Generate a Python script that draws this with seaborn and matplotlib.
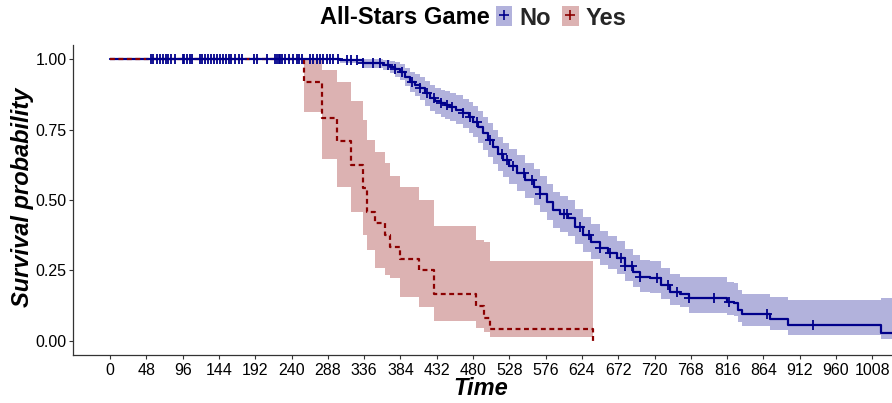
import numpy as np
import pandas as pd
import matplotlib
matplotlib.use("Agg")
import matplotlib.pyplot as plt
from matplotlib.patches import Patch
from matplotlib.lines import Line2D
import seaborn as sns

# ---------------- data ----------------
no_time = [0, 304, 335, 361, 370, 377, 384, 390, 397, 403, 410, 417, 423, 430, 437, 443,
           450, 458, 467, 474, 480, 487, 493, 500, 507, 513, 520, 528, 538, 549, 560, 569,
           578, 586, 595, 605, 615, 626, 636, 648, 659, 671, 681, 692, 701, 714, 728, 741,
           754, 765, 816, 825, 831, 836, 873, 897, 1019, 1040]
no_surv = [1.0, .996, .985, .980, .973, .965, .955, .938, .920, .908, .896, .878, .863, .852,
           .843, .838, .831, .820, .807, .793, .778, .758, .737, .713, .689, .664, .642, .620,
           .595, .570, .547, .520, .492, .465, .450, .435, .405, .376, .352, .329, .311, .293,
           .266, .245, .226, .222, .199, .175, .167, .151, .139, .134, .110, .095, .077, .057,
           .029, .029]
no_lower = [1.0, .986, .968, .960, .950, .938, .925, .905, .884, .869, .855, .834, .817, .805,
            .795, .789, .781, .768, .754, .739, .722, .701, .679, .654, .629, .603, .581, .558,
            .533, .507, .484, .457, .429, .402, .387, .372, .343, .315, .292, .270, .254, .237,
            .212, .192, .175, .171, .150, .128, .120, .100, .091, .087, .066, .054, .038, .022,
            .006, .006]
no_upper = [1.0, 1.0, 1.0, .998, .994, .990, .984, .970, .955, .946, .936, .921, .908, .898,
            .890, .886, .880, .871, .860, .847, .833, .815, .795, .772, .749, .725, .704, .682,
            .658, .633, .611, .584, .556, .529, .514, .499, .469, .439, .415, .391, .372, .354,
            .326, .305, .286, .283, .260, .236, .228, .228, .210, .204, .180, .165, .155, .145,
            .151, .151]

yes_time = [0, 257, 280, 300, 318, 334, 340, 351, 364, 370, 383, 408, 429, 484, 494, 502, 639]
yes_surv = [1.0, .917, .792, .708, .625, .542, .458, .417, .375, .333, .292, .250, .167,
            .125, .083, .042, 0.0]
yes_lower = [1.0, .813, .645, .547, .456, .376, .323, .258, .235, .222, .157, .122, .072,
             .045, .030, .013, .013]
yes_upper = [1.0, 1.0, .960, .917, .852, .784, .713, .671, .630, .585, .545, .500, .409,
             .358, .350, .285, .285]

no_censor = [54, 57, 62, 66, 70, 74, 77, 81, 86, 96, 98, 102, 106, 109, 119, 122, 126, 129,
             134, 137, 142, 145, 149, 153, 157, 160, 165, 170, 174, 191, 194, 207, 218, 221,
             223, 225, 228, 231, 237, 242, 247, 250, 254, 265, 269, 273, 278, 281, 287, 291,
             295, 302, 313, 318, 326, 335, 348, 357, 368, 377, 386, 399, 410, 419, 428, 437,
             445, 452, 467, 476, 485, 503, 518, 525, 533, 547, 558, 569, 600, 604, 622, 633,
             648, 661, 675, 681, 690, 701, 723, 738, 750, 765, 798, 818, 869, 929]

groups = ["No", "Yes"]
x_ticks = list(range(0, 1009, 48))
y_ticks = [0.0, 0.25, 0.50, 0.75, 1.0]
y_tick_labels = ["0.00", "0.25", "0.50", "0.75", "1.00"]

legend_title = "All-Stars Game"
x_label = "Time"
y_label = "Survival probability"

# ---------------- styling ----------------
line_col = {"No": "#00008B", "Yes": "#8B0000"}
band_col = {"No": "#B2B2DC", "Yes": "#DCB2B2"}

sns.set_theme(style="ticks")
plt.rcParams["font.family"] = ["Liberation Sans", "DejaVu Sans"]

fig = plt.figure(figsize=(8.92, 4.03), dpi=100)
ax = fig.add_axes([73 / 892, 48 / 403, (892 - 73) / 892, (355 - 45) / 403])

df = pd.concat([
    pd.DataFrame({"time": no_time, "surv": no_surv, "group": "No"}),
    pd.DataFrame({"time": yes_time, "surv": yes_surv, "group": "Yes"}),
], ignore_index=True)

ax.fill_between(no_time, no_lower, no_upper, step="post", color=band_col["No"], lw=0, zorder=1)
ax.fill_between(yes_time, yes_lower, yes_upper, step="post", color=band_col["Yes"], lw=0, zorder=1)

sns.lineplot(data=df, x="time", y="surv", hue="group", style="group", hue_order=groups,
             style_order=groups, palette=line_col, dashes={"No": "", "Yes": (2.2, 1.6)},
             drawstyle="steps-post", estimator=None, sort=False, legend=False,
             linewidth=1.6, ax=ax, zorder=3)

nt = np.array(no_time)
ns = np.array(no_surv)
cen_t = np.array(no_censor)
cen_y = ns[np.searchsorted(nt, cen_t, side="right") - 1]
ax.plot(cen_t, cen_y, linestyle="none", marker="+", ms=7, mew=1.3, color=line_col["No"], zorder=4)

ax.set_xlim(-49, 1034)
ax.set_ylim(-0.05, 1.05)
ax.set_xticks(x_ticks)
ax.set_xticklabels([str(v) for v in x_ticks])
ax.set_yticks(y_ticks)
ax.set_yticklabels(y_tick_labels)
ax.set_xlabel("")
ax.set_ylabel("")
sns.despine(ax=ax)
for sp in ["left", "bottom"]:
    ax.spines[sp].set_color("#333333")
    ax.spines[sp].set_linewidth(0.9)
ax.tick_params(axis="both", length=3, width=0.8, color="#333333",
               labelsize=11.5, labelcolor="black")
ax.tick_params(axis="y", pad=1.5)
ax.tick_params(axis="x", pad=2.5)

fig.text(23 / 892, 1 - 197 / 403, y_label, rotation=90, ha="center", va="center",
         fontsize=17, fontweight="bold", fontstyle="italic", color="black")
fig.text(481 / 892, 1 - 395 / 403, x_label, ha="center", va="baseline",
         fontsize=17, fontweight="bold", fontstyle="italic", color="black")
fig.text(490 / 892, 1 - 18 / 403, legend_title, ha="right", va="center",
         fontsize=17, fontweight="bold", color="black")

handles = []
for g in groups:
    handles.append((Patch(facecolor=band_col[g], edgecolor="none"),
                    Line2D([], [], color=line_col[g], marker="+", ms=7, mew=1.2, lw=0)))
fig.legend(handles, groups, loc="center left", bbox_to_anchor=(496 / 892, 1 - 18 / 403),
           ncol=2, frameon=False, handlelength=0.68, handleheight=0.93, handletextpad=0.3,
           columnspacing=0.5, borderpad=0, borderaxespad=0,
           prop={"weight": "bold", "size": 17})

fig.savefig("out.png", dpi=100)
